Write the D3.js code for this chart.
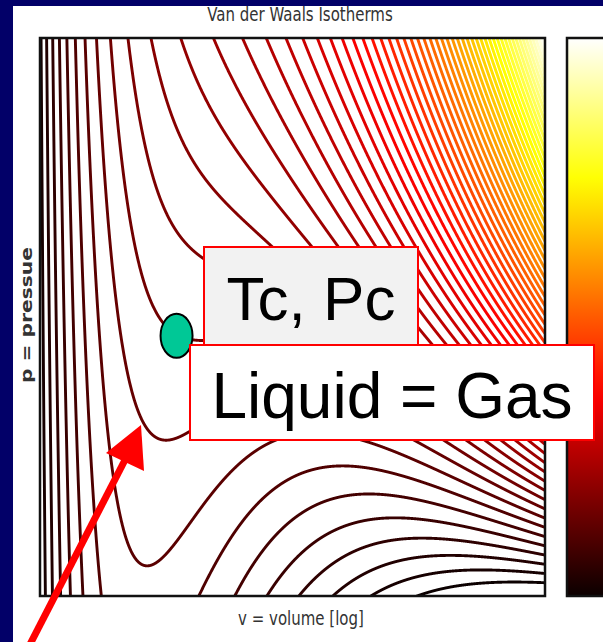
<!DOCTYPE html>
<html>
<head>
<meta charset="utf-8">
<script src="https://cdn.jsdelivr.net/npm/d3@7"></script>
<style>
body { margin: 0; background: #020068; }
svg { display: block; }
</style>
</head>
<body>
<div id="chart"></div>
<script>
// reduced van der Waals isotherms: p = 8T/(3v-1) - 3/v^2
const volumeDomain = [0.39, 5.56]      // log axis
const pressureDomain = [0.065, 2.07]
const isothermLevels = [
    0.411, 0.476, 0.541, 0.606, 0.671, 0.736, 0.801, 0.866, 0.931, 0.996,
    1.061, 1.126, 1.191, 1.256, 1.321, 1.386, 1.451, 1.516, 1.581, 1.646,
    1.711, 1.776, 1.841, 1.906, 1.971, 2.036, 2.101, 2.166, 2.231, 2.296,
    2.361, 2.426, 2.491, 2.556, 2.621, 2.686, 2.751, 2.816, 2.881, 2.946,
    3.011, 3.076, 3.141, 3.206, 3.271, 3.336, 3.401, 3.466, 3.531, 3.596,
    3.661, 3.726, 3.791, 3.856, 3.921, 3.986, 4.051, 4.116, 4.181, 4.246
]
const markerPoint = [0.80, 1.0]   // green dot (Tc, Pc) as placed on the slide
const titleText = 'Van der Waals Isotherms'
const xLabel = 'v = volume [log]'
const yLabel = 'p = pressue'
const boxLabels = ['Tc, Pc', 'Liquid = Gas']

const W = 603, H = 642
const plot = {left: 40, right: 545, top: 38, bottom: 596}

const svg = d3.select('#chart').append('svg')
    .attr('width', W)
    .attr('height', H)

// slide background + figure
svg.append('rect').attr('width', W).attr('height', H).attr('fill', '#020068')
svg.append('rect').attr('x', 13).attr('y', 6).attr('width', W - 13).attr('height', H - 6).attr('fill', 'white')

const x = d3.scaleLog().domain(volumeDomain).range([plot.left, plot.right])
const y = d3.scaleLinear().domain(pressureDomain).range([plot.bottom, plot.top])

// matplotlib 'hot'
const hot = t => {
    t = Math.max(0, Math.min(1, t))
    const r = t < 0.365079 ? 0.0416 + (1 - 0.0416) * t / 0.365079 : 1
    const g = t < 0.365079 ? 0 : t < 0.746032 ? (t - 0.365079) / (0.746032 - 0.365079) : 1
    const b = t < 0.746032 ? 0 : (t - 0.746032) / (1 - 0.746032)
    return d3.rgb(r * 255, g * 255, b * 255).toString()
}
const colorNorm = d3.scaleLinear()
    .domain([isothermLevels[0], isothermLevels[isothermLevels.length - 1]])
    .range([0, 1])

svg.append('clipPath').attr('id', 'plot-clip')
    .append('rect')
    .attr('x', plot.left).attr('y', plot.top)
    .attr('width', plot.right - plot.left).attr('height', plot.bottom - plot.top)

// sample volumes evenly on the log axis
const n = 4000
const vSamples = d3.range(n + 1).map(i => volumeDomain[0] * Math.pow(volumeDomain[1] / volumeDomain[0], i / n))
const pLo = pressureDomain[0] - 0.3, pHi = pressureDomain[1] + 0.3

const line = d3.line()
    .defined(d => d[1] > pLo && d[1] < pHi)
    .x(d => x(d[0]))
    .y(d => y(d[1]))

const g = svg.append('g').attr('clip-path', 'url(#plot-clip)')
g.selectAll('path.iso')
    .data(isothermLevels)
    .join('path')
    .attr('class', 'iso')
    .attr('fill', 'none')
    .attr('stroke', T => hot(colorNorm(T)))
    .attr('stroke-width', 2.9)
    .attr('d', T => line(vSamples.map(v => [v, 8 * T / (3 * v - 1) - 3 / (v * v)])))

// frame
svg.append('rect')
    .attr('x', plot.left).attr('y', plot.top)
    .attr('width', plot.right - plot.left).attr('height', plot.bottom - plot.top)
    .attr('fill', 'none').attr('stroke', '#111').attr('stroke-width', 2.5)

// colorbar
const grad = svg.append('defs').append('linearGradient')
    .attr('id', 'hot-grad')
    .attr('x1', 0).attr('y1', 1).attr('x2', 0).attr('y2', 0)
grad.selectAll('stop')
    .data(d3.range(0, 1.0001, 0.05))
    .join('stop')
    .attr('offset', d => d)
    .attr('stop-color', d => hot(d))
svg.append('rect')
    .attr('x', 567).attr('y', plot.top)
    .attr('width', 60).attr('height', plot.bottom - plot.top)
    .attr('fill', 'url(#hot-grad)')
    .attr('stroke', '#111').attr('stroke-width', 2.5)

// texts (figure was stretched vertically on the slide)
svg.append('text')
    .attr('transform', 'translate(300,21) scale(1,1.25)')
    .attr('text-anchor', 'middle')
    .attr('font-family', 'DejaVu Sans')
    .attr('font-size', 15)
    .attr('fill', '#333')
    .text(titleText)
svg.append('text')
    .attr('transform', 'translate(301,625) scale(1,1.25)')
    .attr('text-anchor', 'middle')
    .attr('font-family', 'DejaVu Sans')
    .attr('font-size', 15)
    .attr('fill', '#333')
    .text(xLabel)
svg.append('text')
    .attr('transform', 'translate(32,315) scale(1,1.35) rotate(-90)')
    .attr('text-anchor', 'middle')
    .attr('font-family', 'DejaVu Sans')
    .attr('font-size', 15)
    .attr('font-weight', 'bold')
    .attr('fill', '#333')
    .text(yLabel)

// annotations
svg.append('ellipse')
    .attr('cx', x(markerPoint[0])).attr('cy', y(markerPoint[1]))
    .attr('rx', 16).attr('ry', 22)
    .attr('fill', '#00c896').attr('stroke', '#000').attr('stroke-width', 2)

svg.append('rect')
    .attr('x', 204).attr('y', 247).attr('width', 214).attr('height', 100)
    .attr('fill', '#f2f2f2').attr('stroke', '#ff0000').attr('stroke-width', 2)
svg.append('text')
    .attr('x', 311).attr('y', 320)
    .attr('text-anchor', 'middle')
    .attr('font-family', 'Liberation Sans, Arial')
    .attr('font-size', 62)
    .text(boxLabels[0])

svg.append('rect')
    .attr('x', 190).attr('y', 345).attr('width', 404).attr('height', 95)
    .attr('fill', 'white').attr('stroke', '#ff0000').attr('stroke-width', 2)
svg.append('text')
    .attr('x', 392).attr('y', 418)
    .attr('text-anchor', 'middle')
    .attr('font-family', 'Liberation Sans, Arial')
    .attr('font-size', 64)
    .text(boxLabels[1])

// red arrow
svg.append('line')
    .attr('x1', 24).attr('y1', 656).attr('x2', 126).attr('y2', 458)
    .attr('stroke', '#ff0000').attr('stroke-width', 7)
svg.append('path')
    .attr('d', 'M141,425 L106,453 L144,471 Z')
    .attr('fill', '#ff0000')
</script>
</body>
</html>
